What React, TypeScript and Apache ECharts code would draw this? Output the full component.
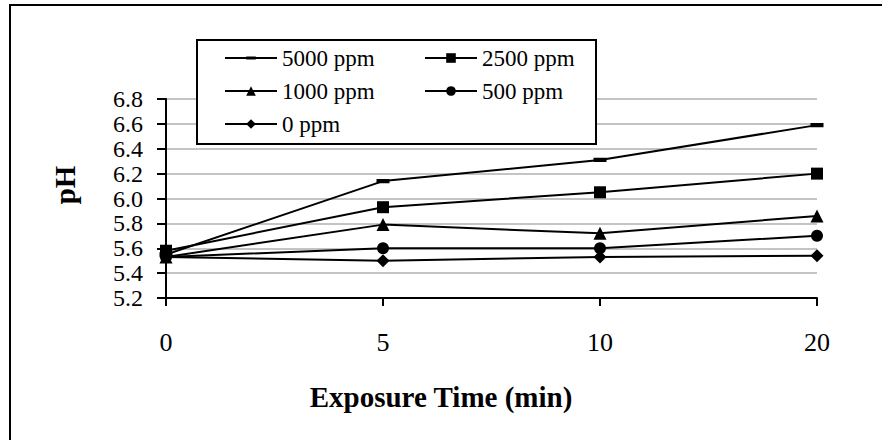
import React, { useEffect, useRef } from 'react';
import * as echarts from 'echarts';

const categories = ['0', '5', '10', '20'];
const seriesNames = ['5000 ppm', '2500 ppm', '1000 ppm', '500 ppm', '0 ppm'];
const s5000 = [5.55, 6.14, 6.31, 6.59];
const s2500 = [5.58, 5.93, 6.05, 6.2];
const s1000 = [5.53, 5.79, 5.72, 5.86];
const s500 = [5.53, 5.6, 5.6, 5.7];
const s0 = [5.53, 5.5, 5.53, 5.54];
const yTitle = 'pH';
const xTitle = 'Exposure Time (min)';

const FONT = '"Liberation Serif", "Times New Roman", serif';
// dash marker inside a square bounding box (tiny corner specks fix the box)
const DASH = 'path://M0,0L0.01,0L0,0.01ZM0,4H12V8H0ZM12,12L11.99,12L12,11.99Z';

export default function App() {
  const ref = useRef<HTMLDivElement>(null);
  useEffect(() => {
    const chart = echarts.init(ref.current!, null, { renderer: 'svg' });
    const mk = (name: string, data: number[], symbol: string, size: any) => ({
      name,
      type: 'line',
      data,
      symbol,
      symbolSize: size,
      showSymbol: true,
      itemStyle: { color: '#000', borderWidth: 0 },
      lineStyle: { color: '#000', width: 2 },
      emphasis: { disabled: true },
      z: 2,
    });
    const legendCommon = {
      orient: 'vertical',
      top: 46,
      padding: 0,
      itemGap: 9,
      itemWidth: 52,
      itemHeight: 12,
      textStyle: { fontFamily: FONT, fontSize: 23, color: '#000', lineHeight: 24 },
      z: 5,
    };
    chart.setOption({
      animation: false,
      backgroundColor: '#fff',
      textStyle: { fontFamily: FONT },
      grid: { left: 166, right: 65, top: 99, bottom: 142 },
      legend: [
        { ...legendCommon, left: 224, data: [seriesNames[0], seriesNames[2], seriesNames[4]] },
        { ...legendCommon, left: 424, data: [seriesNames[1], seriesNames[3]] },
      ],
      xAxis: {
        type: 'category',
        data: categories,
        boundaryGap: false,
        axisLine: { lineStyle: { color: '#000', width: 2 } },
        axisTick: { show: true, length: 8, inside: false, lineStyle: { color: '#000', width: 2 } },
        axisLabel: { fontFamily: FONT, fontSize: 26, color: '#000', margin: 31 },
        splitLine: { show: false },
      },
      yAxis: {
        type: 'value',
        min: 5.2,
        max: 6.8,
        interval: 0.2,
        axisLine: { show: true, lineStyle: { color: '#000', width: 2 } },
        axisTick: { show: true, length: 9, inside: false, lineStyle: { color: '#000', width: 2 } },
        axisLabel: {
          fontFamily: FONT,
          fontSize: 24,
          lineHeight: 20,
          color: '#000',
          margin: 23,
          showMinLabel: true,
          showMaxLabel: true,
          hideOverlap: false,
          formatter: (v: number) => v.toFixed(1),
        },
        splitLine: { show: true, lineStyle: { color: '#c4c4c4', width: 2 } },
      },
      graphic: [
        {
          type: 'rect',
          z: 0,
          silent: true,
          shape: { x: 10, y: 5, width: 900, height: 500 },
          style: { fill: 'none', stroke: '#000', lineWidth: 2 },
        },
        {
          type: 'rect',
          z: 4,
          silent: true,
          shape: { x: 197, y: 40, width: 399, height: 104 },
          style: { fill: '#fff', stroke: '#000', lineWidth: 2 },
        },
        {
          type: 'text',
          z: 5,
          x: 65,
          y: 185,
          rotation: Math.PI / 2,
          style: {
            text: yTitle,
            fontFamily: FONT,
            fontSize: 29,
            fontWeight: 'bold',
            fill: '#000',
            textAlign: 'center',
            textVerticalAlign: 'middle',
          },
        },
        {
          type: 'text',
          z: 5,
          x: 441,
          y: 397,
          style: {
            text: xTitle,
            fontFamily: FONT,
            fontSize: 29,
            fontWeight: 'bold',
            fill: '#000',
            textAlign: 'center',
            textVerticalAlign: 'middle',
          },
        },
      ],
      series: [
        mk(seriesNames[0], s5000, DASH, 13),
        mk(seriesNames[1], s2500, 'rect', 12),
        mk(seriesNames[2], s1000, 'triangle', 13),
        mk(seriesNames[3], s500, 'circle', 12),
        mk(seriesNames[4], s0, 'diamond', 13),
      ],
    });
    return () => chart.dispose();
  }, []);
  return (
    <div
      ref={ref}
      style={{ position: 'absolute', left: 0, top: 0, width: 882, height: 440, background: '#fff' }}
    />
  );
}
